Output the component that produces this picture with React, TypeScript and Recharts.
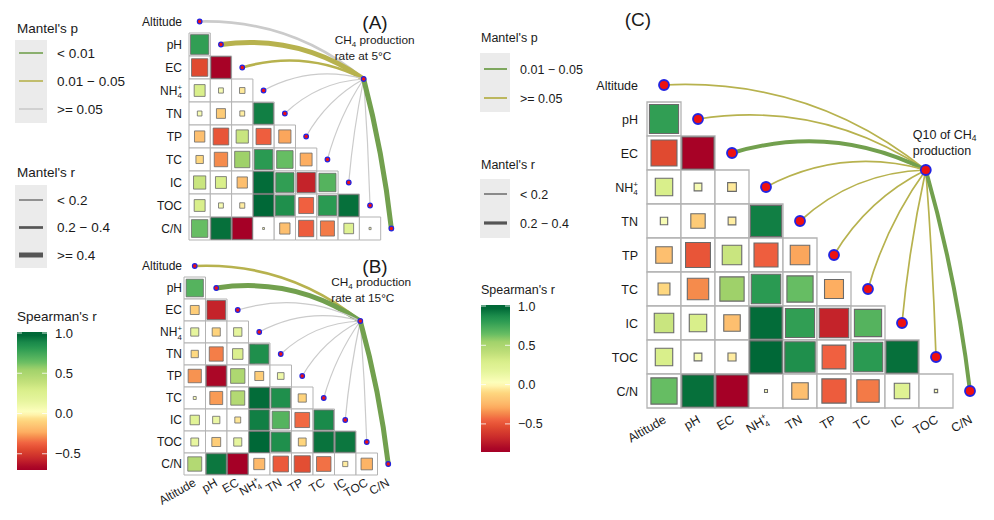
import React from 'react';
import { ScatterChart, Scatter, XAxis, YAxis, ReferenceArea, ReferenceLine } from 'recharts';

// ---------------- data ----------------
const VARIABLES = ['Altitude', 'pH', 'EC', 'NH4+', 'TN', 'TP', 'TC', 'IC', 'TOC', 'C/N'];
const AXIS_TICKS = [0, 1, 2, 3, 4, 5, 6, 7, 8, 9];

// Spearman's r, lower triangle: rows pH..C/N, columns Altitude..(row-1)
const SPEARMAN_5C: number[][] = [
  [0.78],
  [-0.62, -0.94],
  [0.28, 0.055, -0.07],
  [0.05, -0.19, -0.055, 0.9],
  [-0.25, -0.57, 0.35, -0.53, -0.35],
  [-0.13, -0.42, 0.54, 0.8, 0.63, -0.33],
  [0.35, 0.28, -0.25, 0.95, 0.78, -0.8, 0.68],
  [0.28, 0.055, -0.06, 0.96, 0.85, -0.52, 0.8, 0.94],
  [0.63, 0.94, -0.95, 0.008, -0.25, -0.54, -0.46, 0.22, 0.01],
];

const SPEARMAN_15C: number[][] = [
  [0.68],
  [-0.18, -0.8],
  [0.15, -0.15, 0.16],
  [-0.12, -0.45, 0.25, 0.85],
  [-0.4, -0.92, 0.47, -0.18, 0.1],
  [0.02, -0.38, 0.45, 0.95, 0.85, -0.15],
  [0.2, 0.12, -0.08, 0.9, 0.68, -0.5, 0.87],
  [0.14, -0.18, 0.15, 0.96, 0.85, -0.14, 0.93, 0.92],
  [0.45, 0.92, -0.95, -0.28, -0.55, -0.6, -0.48, -0.06, -0.3],
];

const SPEARMAN_Q10: number[][] = SPEARMAN_5C;

// Mantel test classes per variable (Altitude..C/N)
const MANTEL_P_5C = ['>=0.05', '0.01-0.05', '0.01-0.05', '>=0.05', '>=0.05', '>=0.05', '>=0.05', '>=0.05', '>=0.05', '<0.01'];
const MANTEL_R_5C = ['0.2-0.4', '>=0.4', '0.2-0.4', '<0.2', '<0.2', '<0.2', '<0.2', '<0.2', '<0.2', '>=0.4'];
const MANTEL_P_15C = ['0.01-0.05', '<0.01', '>=0.05', '>=0.05', '>=0.05', '>=0.05', '>=0.05', '>=0.05', '>=0.05', '<0.01'];
const MANTEL_R_15C = ['0.2-0.4', '>=0.4', '<0.2', '<0.2', '<0.2', '<0.2', '<0.2', '<0.2', '<0.2', '>=0.4'];
const MANTEL_P_Q10 = ['>=0.05', '>=0.05', '0.01-0.05', '>=0.05', '>=0.05', '>=0.05', '>=0.05', '>=0.05', '>=0.05', '0.01-0.05'];
const MANTEL_R_Q10 = ['<0.2', '<0.2', '0.2-0.4', '<0.2', '<0.2', '<0.2', '<0.2', '<0.2', '<0.2', '0.2-0.4'];

// hub (response variable) in grid units
const HUB = { x: 7.7, y: 2.5 };

const LEFT_P_KEYS = ['<0.01', '0.01-0.05', '>=0.05'];
const LEFT_P_LABELS = ['< 0.01', '0.01 \u2212 0.05', '>= 0.05'];
const LEFT_R_KEYS = ['<0.2', '0.2-0.4', '>=0.4'];
const LEFT_R_LABELS = ['< 0.2', '0.2 \u2212 0.4', '>= 0.4'];
const MID_P_KEYS = ['0.01-0.05', '>=0.05'];
const MID_P_LABELS = ['0.01 \u2212 0.05', '>= 0.05'];
const MID_R_KEYS = ['<0.2', '0.2-0.4'];
const MID_R_LABELS = ['< 0.2', '0.2 \u2212 0.4'];
const COLORBAR_VALUES = [1.0, 0.5, 0.0, -0.5];
const COLORBAR_LABELS = ['1.0', '0.5', '0.0', '\u22120.5'];

// ---------------- styles ----------------
const FONT = '"Liberation Sans", Arial, Helvetica, sans-serif';
const TEXT = '#1a1a1a';
const GREEN_LINE = '#72a04e';
const OLIVE_LINE = '#b7b24e';
const GRAY_LINE = '#cbcbcb';

const LEFT_P_COLORS: Record<string, string> = { '<0.01': GREEN_LINE, '0.01-0.05': OLIVE_LINE, '>=0.05': GRAY_LINE };
const LEFT_R_WIDTHS: Record<string, number> = { '<0.2': 1.2, '0.2-0.4': 2.7, '>=0.4': 5 };
const MID_P_COLORS: Record<string, string> = { '0.01-0.05': GREEN_LINE, '>=0.05': OLIVE_LINE };
const MID_R_WIDTHS: Record<string, number> = { '<0.2': 1.7, '0.2-0.4': 4 };

const COLOR_STOPS: [number, string][] = [
  [-0.95, '#a50026'], [-0.78, '#c8282b'], [-0.62, '#e04a30'], [-0.52, '#f06040'],
  [-0.42, '#f58b4c'], [-0.33, '#fdae61'], [-0.25, '#fdbf6f'], [-0.12, '#fed980'],
  [0, '#ffffbf'], [0.15, '#e6f59d'], [0.28, '#d9ef8b'], [0.38, '#c2e07a'],
  [0.54, '#9fd16a'], [0.63, '#66bd63'], [0.7, '#4eaf5c'], [0.8, '#2a9a52'],
  [0.87, '#1a8a4a'], [0.96, '#006837'],
];

function hexRgb(h: string) {
  return [parseInt(h.slice(1, 3), 16), parseInt(h.slice(3, 5), 16), parseInt(h.slice(5, 7), 16)];
}
function colorScale(v: number): string {
  if (v <= COLOR_STOPS[0][0]) return COLOR_STOPS[0][1];
  const last = COLOR_STOPS[COLOR_STOPS.length - 1];
  if (v >= last[0]) return last[1];
  for (let i = 0; i < COLOR_STOPS.length - 1; i++) {
    const [a, ca] = COLOR_STOPS[i];
    const [b, cb] = COLOR_STOPS[i + 1];
    if (v >= a && v <= b) {
      const t = (v - a) / (b - a);
      const A = hexRgb(ca), B = hexRgb(cb);
      const c = A.map((x, k) => Math.round(x + (B[k] - x) * t));
      return `rgb(${c[0]},${c[1]},${c[2]})`;
    }
  }
  return last[1];
}

function nameNode(name: string, small: number) {
  if (name === 'NH4+') {
    return [
      <tspan key="a">NH</tspan>,
      <tspan key="b" fontSize={small} dy={3.5}>4</tspan>,
      <tspan key="c" fontSize={small} dx={-small * 0.56} dy={-8.5}>+</tspan>,
    ];
  }
  return name;
}

function curvePath(x1: number, y1: number, x2: number, y2: number) {
  const dx = x2 - x1, dy = y2 - y1;
  const len = Math.hypot(dx, dy) || 1;
  const k = 0.2 * Math.abs(dx) / len;
  const s = x2 > x1 ? -1 : 1;
  const nx = (s * -dy) / len, ny = (s * dx) / len;
  const cx = (x1 + x2) / 2 + nx * k * len;
  const cy = (y1 + y2) / 2 + ny * k * len;
  return `M${x1},${y1} Q${cx},${cy} ${x2},${y2}`;
}

type PanelCfg = {
  left: number; top: number; width: number; height: number;
  margin: { top: number; right: number; bottom: number; left: number };
  yAxisWidth: number; xAxisHeight: number; showX: boolean;
  corr: number[][]; mantelP: string[]; mantelR: string[];
  pColors: Record<string, string>; rWidths: Record<string, number>;
  labelGap: number; fontSize: number; xdx: number; xdy: number;
  dotR: number; dotStroke: number; cellStroke: number; squareStroke: number;
  hubText: 'A' | 'B' | 'C';
};

const PANEL_A: PanelCfg = {
  left: 140, top: 0, width: 290, height: 245,
  margin: { top: 10, right: 28, bottom: 5, left: 0 },
  yAxisWidth: 49, xAxisHeight: 0, showX: false,
  corr: SPEARMAN_5C, mantelP: MANTEL_P_5C, mantelR: MANTEL_R_5C,
  pColors: LEFT_P_COLORS, rWidths: LEFT_R_WIDTHS,
  labelGap: 7, fontSize: 12, xdx: 2, xdy: 10,
  dotR: 2.3, dotStroke: 1.2, cellStroke: 1, squareStroke: 0.8, hubText: 'A',
};
const PANEL_B: PanelCfg = {
  left: 134, top: 245, width: 295, height: 275,
  margin: { top: 10, right: 30, bottom: 5, left: 0 },
  yAxisWidth: 50, xAxisHeight: 40, showX: true,
  corr: SPEARMAN_15C, mantelP: MANTEL_P_15C, mantelR: MANTEL_R_15C,
  pColors: LEFT_P_COLORS, rWidths: LEFT_R_WIDTHS,
  labelGap: 2, fontSize: 12, xdx: 2, xdy: 10,
  dotR: 2.3, dotStroke: 1.2, cellStroke: 1, squareStroke: 0.8, hubText: 'B',
};
const PANEL_C: PanelCfg = {
  left: 587, top: 58, width: 407, height: 402,
  margin: { top: 10, right: 7, bottom: 2, left: 0 },
  yAxisWidth: 60, xAxisHeight: 50, showX: true,
  corr: SPEARMAN_Q10, mantelP: MANTEL_P_Q10, mantelR: MANTEL_R_Q10,
  pColors: MID_P_COLORS, rWidths: MID_R_WIDTHS,
  labelGap: 9, fontSize: 12.5, xdx: 3, xdy: 14,
  dotR: 5, dotStroke: 1.8, cellStroke: 1.3, squareStroke: 1.1, hubText: 'C',
};

function HubLabel({ cx, cy, which }: { cx: number; cy: number; which: 'A' | 'B' | 'C' }) {
  if (which === 'C') {
    return (
      <g fontFamily={FONT} fill={TEXT} fontSize={12.5}>
        <text x={cx - 13} y={cy - 31}>
          Q10 of CH<tspan fontSize={8.5} dy={2}>4</tspan>
        </text>
        <text x={cx - 13} y={cy - 15}>production</text>
      </g>
    );
  }
  return (
    <g fontFamily={FONT} fill={TEXT} fontSize={11.8}>
      <text x={cx - 29} y={cy - 35}>
        CH<tspan fontSize={8} dy={2.5}>4</tspan><tspan dy={-2.5}> production</tspan>
      </text>
      <text x={cx - 29} y={cy - 19}>{which === 'A' ? 'rate at 5°C' : 'rate at 15°C'}</text>
    </g>
  );
}

function Panel({ cfg }: { cfg: PanelCfg }) {
  const cells: React.ReactNode[] = [];
  const squares: React.ReactNode[] = [];
  cfg.corr.forEach((row, i) => {
    const r = i + 1;
    row.forEach((val, c) => {
      cells.push(
        <ReferenceArea key={`c${r}-${c}`} x1={c - 0.5} x2={c + 0.5} y1={r - 0.5} y2={r + 0.5}
          fill="#ffffff" fillOpacity={1} stroke="#b3b3b3" strokeWidth={cfg.cellStroke} ifOverflow="visible" />
      );
      const h = 0.5 * Math.sqrt(Math.abs(val)) * 0.97;
      squares.push(
        <ReferenceArea key={`s${r}-${c}`} x1={c - h} x2={c + h} y1={r - h} y2={r + h}
          fill={colorScale(val)} fillOpacity={1} stroke="#6a6a6a" strokeWidth={cfg.squareStroke} ifOverflow="visible" />
      );
    });
  });
  const diag = VARIABLES.map((name, i) => ({ x: i, y: i, name }));
  const lines = VARIABLES.map((name, i) => {
    const color = cfg.pColors[cfg.mantelP[i]];
    const w = cfg.rWidths[cfg.mantelR[i]];
    return (
      <ReferenceLine key={`l${i}`} segment={[{ x: HUB.x, y: HUB.y }, { x: i, y: i }]} ifOverflow="visible"
        shape={(p: any) => (
          <path d={curvePath(p.x1, p.y1, p.x2, p.y2)} stroke={color} strokeWidth={w} fill="none" strokeLinecap="round" />
        )} />
    );
  });
  const dotShape = (p: any) => (
    <circle cx={p.cx} cy={p.cy} r={cfg.dotR} fill="#ee1111" stroke="#2323e0" strokeWidth={cfg.dotStroke} />
  );
  const hubShape = (p: any) => (
    <g>
      <circle cx={p.cx} cy={p.cy} r={cfg.dotR} fill="#ee1111" stroke="#2323e0" strokeWidth={cfg.dotStroke} />
      <HubLabel cx={p.cx} cy={p.cy} which={cfg.hubText} />
    </g>
  );
  const yTick = (p: any) => (
    <text x={p.x - cfg.labelGap} y={p.y + cfg.fontSize * 0.36} textAnchor="end" fontSize={cfg.fontSize} fill={TEXT} fontFamily={FONT}>
      {nameNode(VARIABLES[p.payload.value], cfg.fontSize * 0.65)}
    </text>
  );
  const xTick = (p: any) => (
    <g transform={`translate(${p.x + cfg.xdx},${p.y + cfg.xdy})`}>
      <text textAnchor="end" transform="rotate(-30)" fontSize={cfg.fontSize} fill={TEXT} fontFamily={FONT}>
        {nameNode(VARIABLES[p.payload.value], cfg.fontSize * 0.65)}
      </text>
    </g>
  );
  return (
    <div style={{ position: 'absolute', left: cfg.left, top: cfg.top }}>
      <ScatterChart width={cfg.width} height={cfg.height} margin={cfg.margin}>
        <XAxis type="number" dataKey="x" domain={[-0.5, 9.5]} ticks={AXIS_TICKS} interval={0}
          hide={!cfg.showX} height={cfg.xAxisHeight || 1} axisLine={false} tickLine={false} tickSize={0} tickMargin={0} tick={xTick} />
        <YAxis type="number" dataKey="y" domain={[-0.5, 9.5]} reversed ticks={AXIS_TICKS} interval={0}
          width={cfg.yAxisWidth} axisLine={false} tickLine={false} tickSize={0} tickMargin={0} tick={yTick} />
        {cells}
        {squares}
        {lines}
        <Scatter data={diag} shape={dotShape} isAnimationActive={false} />
        <Scatter data={[HUB]} shape={hubShape} isAnimationActive={false} />
      </ScatterChart>
    </div>
  );
}

function ColorBar({ id, x, y, w, h, topVal, pxPerUnit, negScale, labelX, fs }: any) {
  const bottomVal = topVal - h / pxPerUnit;
  const stops = [];
  for (let i = 0; i <= 40; i++) {
    const v = topVal + (bottomVal - topVal) * (i / 40);
    stops.push(<stop key={i} offset={`${(i / 40) * 100}%`} stopColor={colorScale(v < 0 ? v * negScale : v)} />);
  }
  return (
    <g>
      <defs>
        <linearGradient id={id} x1="0" y1="0" x2="0" y2="1">{stops}</linearGradient>
      </defs>
      <rect x={x} y={y} width={w} height={h} fill={`url(#${id})`} />
      {COLORBAR_VALUES.map((v, i) => {
        const yy = y + 1 + (topVal - v) * pxPerUnit;
        return (
          <g key={i}>
            <line x1={x} x2={x + 5} y1={yy} y2={yy} stroke="#fff" strokeWidth={1} opacity={0.8} />
            <line x1={x + w - 5} x2={x + w} y1={yy} y2={yy} stroke="#fff" strokeWidth={1} opacity={0.8} />
            <text x={labelX} y={yy + fs * 0.36} fontSize={fs} fill={TEXT}>{COLORBAR_LABELS[i]}</text>
          </g>
        );
      })}
    </g>
  );
}

function Legends() {
  const fsL = 13.5;
  const fsM = 12.5;
  return (
    <svg width={994} height={520} style={{ position: 'absolute', left: 0, top: 0 }} fontFamily={FONT}>
      {/* left legend */}
      <text x={17} y={28 + fsL * 0.36} fontSize={fsL} fill={TEXT}>Mantel's p</text>
      <rect x={15} y={40} width={32} height={83} fill="#ebebeb" />
      {LEFT_P_KEYS.map((k, i) => (
        <g key={k}>
          <line x1={19} x2={43} y1={53 + i * 28} y2={53 + i * 28} stroke={LEFT_P_COLORS[k]} strokeWidth={1.6} />
          <text x={57} y={53 + i * 28 + fsL * 0.36} fontSize={fsL} fill={TEXT}>{LEFT_P_LABELS[i]}</text>
        </g>
      ))}
      <text x={17} y={172 + fsL * 0.36} fontSize={fsL} fill={TEXT}>Mantel's r</text>
      <rect x={15} y={185} width={32} height={83} fill="#ebebeb" />
      {LEFT_R_KEYS.map((k, i) => (
        <g key={k}>
          <line x1={19} x2={43} y1={200 + i * 27.5} y2={200 + i * 27.5} stroke="#555" strokeWidth={LEFT_R_WIDTHS[k]} />
          <text x={57} y={200 + i * 27.5 + fsL * 0.36} fontSize={fsL} fill={TEXT}>{LEFT_R_LABELS[i]}</text>
        </g>
      ))}
      <text x={17} y={316 + fsL * 0.36} fontSize={fsL} fill={TEXT}>Spearman's r</text>
      <ColorBar id="cbL" x={17} y={332} w={30} h={138} topVal={1} pxPerUnit={80.5} negScale={1.36} labelX={55} fs={13} />

      {/* middle legend */}
      <text x={481} y={37 + fsM * 0.36} fontSize={fsM} fill={TEXT}>Mantel's p</text>
      <rect x={480} y={53} width={30} height={59} fill="#ebebeb" />
      {MID_P_KEYS.map((k, i) => (
        <g key={k}>
          <line x1={484} x2={507} y1={69 + i * 29} y2={69 + i * 29} stroke={MID_P_COLORS[k]} strokeWidth={1.8} />
          <text x={520} y={69 + i * 29 + fsM * 0.36} fontSize={fsM} fill={TEXT}>{MID_P_LABELS[i]}</text>
        </g>
      ))}
      <text x={481} y={164 + fsM * 0.36} fontSize={fsM} fill={TEXT}>Mantel's r</text>
      <rect x={480} y={179} width={30} height={59} fill="#ebebeb" />
      {MID_R_KEYS.map((k, i) => (
        <g key={k}>
          <line x1={484} x2={507} y1={194 + i * 29} y2={194 + i * 29} stroke="#555" strokeWidth={i === 0 ? 1.3 : 3.2} />
          <text x={520} y={194 + i * 29 + fsM * 0.36} fontSize={fsM} fill={TEXT}>{MID_R_LABELS[i]}</text>
        </g>
      ))}
      <text x={481} y={289 + fsM * 0.36} fontSize={fsM} fill={TEXT}>Spearman's r</text>
      <ColorBar id="cbM" x={481} y={305} w={29} h={147} topVal={1} pxPerUnit={78.6} negScale={1.12} labelX={518} fs={12.5} />

      {/* panel titles */}
      <text x={375} y={22 + 7} fontSize={19} fill={TEXT} textAnchor="middle">(A)</text>
      <text x={375} y={266 + 7} fontSize={19} fill={TEXT} textAnchor="middle">(B)</text>
      <text x={638} y={19 + 7} fontSize={19} fill={TEXT} textAnchor="middle">(C)</text>
    </svg>
  );
}

export default function App() {
  return (
    <div style={{ position: 'absolute', left: 0, top: 0, width: 994, height: 520, background: '#ffffff', overflow: 'hidden', fontFamily: FONT }}>
      <Legends />
      <Panel cfg={PANEL_A} />
      <Panel cfg={PANEL_B} />
      <Panel cfg={PANEL_C} />
    </div>
  );
}
